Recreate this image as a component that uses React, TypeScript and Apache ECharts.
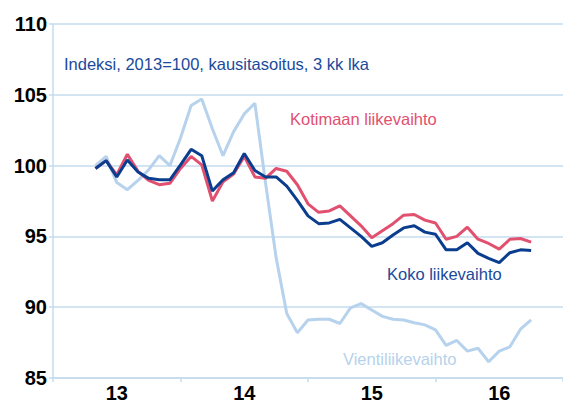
import React, { useEffect, useRef } from "react";
import * as echarts from "echarts";

// Monthly index positions: 0 = start of 2013, 12 = start of 2014 ...
const firstMonth = 4;
const yearLabels = ["13", "14", "15", "16"];

const koko = [
  99.8, 100.35, 99.2, 100.4, 99.55, 99.1, 99.0, 99.0, 100.05, 101.15, 100.7, 98.2,
  99.0, 99.5, 100.85, 99.65, 99.2, 99.2, 98.55, 97.55, 96.45, 95.9, 95.95, 96.2,
  95.6, 95.0, 94.3, 94.55, 95.1, 95.6, 95.75, 95.3, 95.15, 94.05, 94.05, 94.55,
  93.8, 93.45, 93.15, 93.85, 94.05, 94.0,
];
const kotimaa = [
  99.8, 100.35, 99.35, 100.8, 99.6, 98.95, 98.65, 98.75, 99.8, 100.65, 100.05, 97.5,
  98.85, 99.4, 100.65, 99.2, 99.1, 99.8, 99.6, 98.65, 97.3, 96.7, 96.8, 97.15,
  96.45, 95.75, 94.9, 95.4, 95.9, 96.5, 96.55, 96.15, 95.95, 94.8, 95.0, 95.65,
  94.8, 94.5, 94.1, 94.8, 94.85, 94.6,
];
const vienti = [
  100.0, 100.65, 98.8, 98.3, 98.95, 99.7, 100.7, 100.0, 101.95, 104.25, 104.7, 102.6,
  100.7, 102.4, 103.65, 104.4, 98.8, 93.5, 89.55, 88.2, 89.1, 89.15, 89.15, 88.85,
  89.95, 90.25, 89.8, 89.35, 89.15, 89.1, 88.9, 88.75, 88.4, 87.3, 87.65, 86.9,
  87.1, 86.15, 86.9, 87.2, 88.45, 89.1,
];

const NAVY = "#0b3d8e";
const PINK = "#e2506f";
const LIGHT = "#b6d2ec";
const GRID = "#c4dbef";
const FONT = '"Liberation Sans", Arial, sans-serif';

const toPairs = (arr: number[]) => arr.map((v, i) => [firstMonth + i, v]);

export default function App() {
  const ref = useRef<HTMLDivElement>(null);
  useEffect(() => {
    if (!ref.current) return;
    const chart = echarts.init(ref.current, undefined, { renderer: "svg" });
    const axisBase = {
      type: "value" as const,
      position: "bottom" as const,
      offset: 0,
      min: 0,
      max: 48,
      axisLine: { show: true, lineStyle: { color: GRID, width: 1.5 } },
      splitLine: { show: false },
    };
    chart.setOption({
      animation: false,
      backgroundColor: "#ffffff",
      grid: { left: 53, right: -6, top: 24, bottom: 24, containLabel: false },
      xAxis: [
        {
          ...axisBase,
          interval: 12,
          axisTick: { show: true, length: 4, lineStyle: { color: GRID, width: 1.5 } },
          axisLabel: { show: false },
        },
        {
          ...axisBase,
          interval: 6,
          axisLine: { show: false },
          axisTick: { show: false },
          axisLabel: {
            show: true,
            margin: 5,
            color: "#000",
            fontWeight: "bold",
            fontSize: 20,
            fontFamily: FONT,
            showMaxLabel: false,
            showMinLabel: false,
            formatter: (v: number) => {
              if (v % 12 !== 6) return "";
              const idx = (v - 6) / 12;
              return yearLabels[idx] ?? "";
            },
          },
        },
      ],
      yAxis: {
        type: "value",
        min: 85,
        max: 110,
        interval: 5,
        axisLine: { show: true, lineStyle: { color: GRID, width: 1.5 } },
        axisTick: { show: true, length: 4, lineStyle: { color: GRID, width: 1.5 } },
        splitLine: { show: true, lineStyle: { color: GRID, width: 1.5 } },
        axisLabel: {
          margin: 6,
          color: "#000",
          fontWeight: "bold",
          fontSize: 20,
          fontFamily: FONT,
        },
      },
      series: [
        {
          name: "Vientiliikevaihto",
          type: "line",
          data: toPairs(vienti),
          symbol: "none",
          lineStyle: { color: LIGHT, width: 3 },
          itemStyle: { color: LIGHT },
        },
        {
          name: "Kotimaan liikevaihto",
          type: "line",
          data: toPairs(kotimaa),
          symbol: "none",
          lineStyle: { color: PINK, width: 3 },
          itemStyle: { color: PINK },
        },
        {
          name: "Koko liikevaihto",
          type: "line",
          data: toPairs(koko),
          symbol: "none",
          lineStyle: { color: NAVY, width: 3 },
          itemStyle: { color: NAVY },
        },
      ],
      graphic: [
        {
          type: "text",
          x: 64,
          y: 64,
          style: {
            text: "Indeksi, 2013=100, kausitasoitus, 3 kk lka",
            fill: "#1a4a9c",
            fontSize: 16.5,
            fontFamily: FONT,
            verticalAlign: "middle",
          },
        },
        {
          type: "text",
          x: 290,
          y: 119,
          style: {
            text: "Kotimaan liikevaihto",
            fill: PINK,
            fontSize: 16.5,
            fontFamily: FONT,
            verticalAlign: "middle",
          },
        },
        {
          type: "text",
          x: 387,
          y: 274,
          style: {
            text: "Koko liikevaihto",
            fill: "#1a4a9c",
            fontSize: 16.5,
            fontFamily: FONT,
            verticalAlign: "middle",
          },
        },
        {
          type: "text",
          x: 343,
          y: 359,
          style: {
            text: "Vientiliikevaihto",
            fill: LIGHT,
            fontSize: 16.5,
            fontFamily: FONT,
            verticalAlign: "middle",
          },
        },
      ],
    });
    return () => chart.dispose();
  }, []);
  return (
    <div
      ref={ref}
      style={{ position: "fixed", left: 0, top: 0, width: 563, height: 403 }}
    />
  );
}
